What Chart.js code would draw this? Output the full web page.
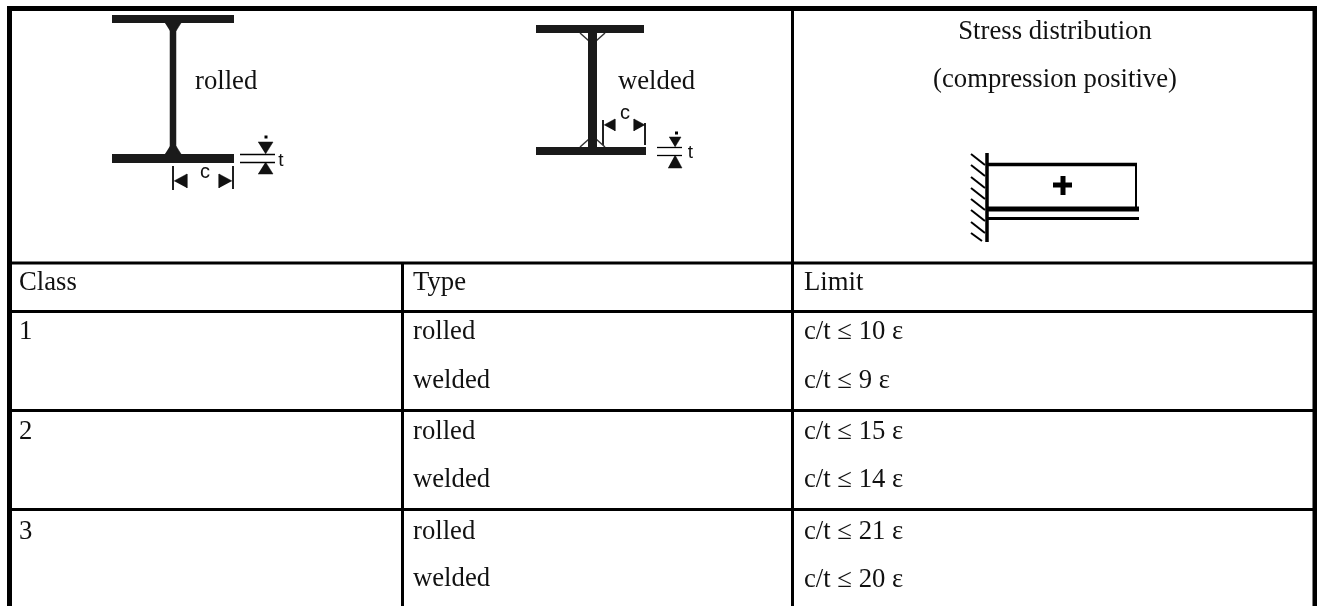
<!DOCTYPE html>
<html><head><meta charset="utf-8">
<style>html,body{margin:0;padding:0;background:#fff;overflow:hidden}canvas{display:block}</style>
<script src="https://cdn.jsdelivr.net/npm/chart.js@4"></script>
</head><body><canvas id="c" width="1317" height="606"></canvas>
<script>
const classes = ['1', '2', '3'];
const types = ['rolled', 'welded'];
const limitsRolled = [10, 15, 21];
const limitsWelded = [9, 14, 20];
const headers = ['Class', 'Type', 'Limit'];
const stressTitle = ['Stress distribution', '(compression positive)'];
const sectionLabels = ['rolled', 'welded'];

const datasets = [];
function stroke(pts, w, color) {
  datasets.push({data: pts.map(p => ({x: p[0], y: p[1]})), showLine: true, pointRadius: 0,
    borderWidth: w, borderColor: color || '#000', borderCapStyle: 'butt', borderJoinStyle: 'miter', tension: 0, fill: false});
}
function poly(pts, color) {
  datasets.push({data: pts.map(p => ({x: p[0], y: p[1]})), showLine: true, pointRadius: 0,
    borderWidth: 0.5, borderColor: color || '#111', backgroundColor: color || '#111', tension: 0, fill: 'shape'});
}
// table rules
stroke([[7, 8.5], [1317, 8.5]], 5);
stroke([[9.5, 6], [9.5, 606]], 5);
stroke([[1315, 6], [1315, 606]], 5);
stroke([[792.5, 8], [792.5, 606]], 3);
stroke([[402.5, 263], [402.5, 606]], 3);
[263, 311.5, 410.5, 509.5].forEach(y => stroke([[10, y], [1315, y]], 3));

// rolled section
stroke([[112, 19], [234, 19]], 8, '#1a1a1a');
stroke([[173, 23], [173, 154]], 6.5, '#1a1a1a');
stroke([[112, 158.5], [234, 158.5]], 9, '#1a1a1a');
poly([[165, 23], [181, 23], [176, 31], [170, 31]], '#1a1a1a');
poly([[165, 154], [181, 154], [176, 146], [170, 146]], '#1a1a1a');
stroke([[173, 166], [173, 190]], 1);
stroke([[233, 166], [233, 189]], 1);
poly([[174, 181], [187, 174], [187, 188]]);
poly([[232, 181], [219, 174], [219, 188]]);
stroke([[240, 154.5], [275, 154.5]], 1.3);
stroke([[240, 162.5], [275, 162.5]], 1.3);
poly([[258, 142], [273, 142], [265.5, 154]]);
poly([[258, 174], [273, 174], [265.5, 162]]);
stroke([[264.5, 137], [267.5, 137]], 3);

// welded section
stroke([[536, 29], [644, 29]], 8, '#1a1a1a');
stroke([[592.5, 33], [592.5, 147]], 9, '#1a1a1a');
stroke([[536, 151], [646, 151]], 8, '#1a1a1a');
stroke([[580, 33], [589, 41]], 1.5, '#333');
stroke([[605, 33], [596, 41]], 1.5, '#333');
stroke([[580, 147], [589, 139]], 1.5, '#333');
stroke([[605, 147], [596, 139]], 1.5, '#333');
stroke([[603, 120], [603, 145]], 1);
stroke([[645, 123], [645, 145]], 1);
poly([[604, 125], [615, 119], [615, 131]]);
poly([[645, 125], [634, 119], [634, 131]]);
stroke([[657, 147.5], [682, 147.5]], 1.3);
stroke([[657, 155.5], [682, 155.5]], 1.3);
poly([[669, 137], [681, 137], [675, 147]]);
poly([[668, 168], [682, 168], [675, 155]]);
stroke([[675, 133], [678, 133]], 3);

// stress block
stroke([[987, 153], [987, 242]], 3.5);
stroke([[987, 164.5], [1137, 164.5]], 3.5);
stroke([[1136, 164], [1136, 209]], 2);
stroke([[987, 209], [1139, 209]], 5);
stroke([[987, 218.5], [1139, 218.5]], 3);
stroke([[1053, 185], [1072, 185]], 5);
stroke([[1063, 176], [1063, 195]], 5);
[154, 165, 177, 188, 199, 210, 222].forEach(y => stroke([[971, y], [985, y + 11]], 2));
stroke([[971, 233], [982, 241]], 2);

const textPlugin = {
  id: 'tableText',
  afterDatasetsDraw(chart) {
    const {ctx, scales: {x, y}} = chart;
    const put = (s, px, py, align, font) => {
      ctx.font = font || SERIF;
      ctx.textAlign = align || 'left';
      ctx.textBaseline = 'alphabetic';
      ctx.fillStyle = '#111';
      ctx.fillText(s, x.getPixelForValue(px), y.getPixelForValue(py));
    };
    put(sectionLabels[0], 195, 89);
    put(sectionLabels[1], 618, 89);
    put(stressTitle[0], 1055, 39, 'center');
    put(stressTitle[1], 1055, 87, 'center');
    put('c', 205, 178, 'center', SANS);
    put('t', 281, 166, 'center', SANS_S);
    put('c', 625, 119, 'center', SANS);
    put('t', 690.5, 158, 'center', SANS_S);
    put(headers[0], 19, 290);
    put(headers[1], 413, 290);
    put(headers[2], 804, 290);
    const rowY = [339, 439, 539], row2Y = [388, 487, 586];
    classes.forEach((c, i) => {
      put(c, 19, rowY[i]);
      put(types[0], 413, rowY[i]);
      put(types[1], 413, row2Y[i]);
      put('c/t ≤ ' + limitsRolled[i] + ' ε', 804, rowY[i]);
      put('c/t ≤ ' + limitsWelded[i] + ' ε', 804, row2Y[i] + (i === 2 ? 1 : 0));
    });
  }
};
const SERIF = '26.7px "Liberation Serif"', SANS = '20px "Liberation Sans"', SANS_S = '19px "Liberation Sans"';

new Chart(document.getElementById('c'), {
  type: 'scatter',
  data: {datasets},
  plugins: [textPlugin],
  options: {
    responsive: false, animation: false,
    layout: {padding: 0},
    plugins: {legend: {display: false}, tooltip: {enabled: false}, title: {display: false}},
    scales: {
      x: {type: 'linear', min: 0, max: 1317, display: false},
      y: {type: 'linear', min: 0, max: 606, reverse: true, display: false}
    }
  }
});
</script></body></html>
